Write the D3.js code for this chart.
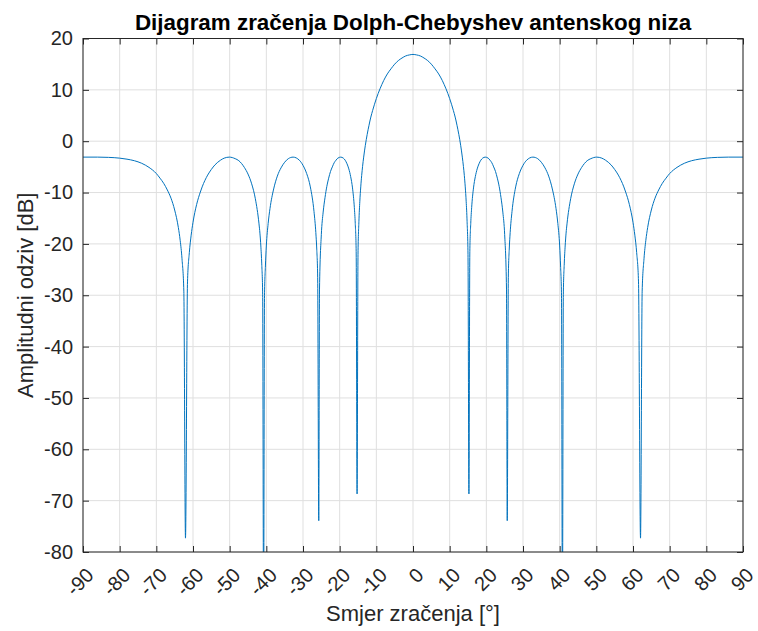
<!DOCTYPE html>
<html>
<head>
<meta charset="utf-8">
<script src="https://cdn.jsdelivr.net/npm/d3@7"></script>
<style>
  body { margin: 0; background: #fff; }
  svg text { font-family: "Liberation Sans", Arial, Helvetica, sans-serif; fill: #262626; }
</style>
</head>
<body>
<div id="chart"></div>
<script>
// angle (deg) and array factor (dB)
const angles = [
  -90, -86, -83, -80, -78, -76, -74, -72, -70, -69, -68, -67, -66, -65, -64, -63.5, -63, -62.5, -62.05, -61.5,
  -61, -60.5, -60, -59, -58, -57.5, -56, -55, -54, -52.5, -51.5, -50.1, -48.5, -47.5, -46, -45, -44, -43, -42,
  -41.75, -41.5, -41.25, -41, -40.75, -40.5, -40.25, -40, -39.5, -39, -38, -37, -36, -35, -34, -32.7, -31, -30,
  -29, -28, -27, -26.5, -26.25, -26, -25.7, -25.5, -25, -24.5, -24, -23.5, -23, -22.5, -22, -21.5, -21, -20.5,
  -19.7, -19, -18.5, -18, -17.5, -17, -16.5, -16, -15.75, -15.5, -15.25, -15, -14.75, -14.5, -14.25, -14, -13.75,
  -13.45, -13, -12.5, -12, -11.5, -11, -10, -9, -8, -7, -6, -5, -4, -3, -2, -1,
  0,
  1, 2, 3, 4, 5, 6, 7, 8, 9, 10, 11, 11.5, 12, 12.5, 13, 13.45,
  13.75, 14, 14.25, 14.5, 14.75, 15, 15.25, 15.5, 15.75, 16, 16.5, 17, 17.5, 18, 18.5, 19, 19.7,
  20.5, 21, 21.5, 22, 22.5, 23, 23.5, 24, 24.5, 25, 25.5, 25.7, 26, 26.25, 26.5, 27, 28, 29,
  30, 31, 32.7, 34, 35, 36, 37, 38, 39, 39.5, 40, 40.25, 40.5, 40.75, 41, 41.25, 41.5, 41.75,
  42, 43, 44, 45, 46, 47.5, 48.5, 50.1, 51.5, 52.5, 54, 55, 56, 57.5, 58, 59, 60, 60.5, 61,
  61.5, 62.05, 62.5, 63, 63.5, 64, 65, 66, 67, 68, 69, 70, 72, 74, 76, 78, 80, 83, 86, 90
];
const levels = [
  -3.1, -3.1, -3.15, -3.3, -3.5, -3.8, -4.3, -5.1, -6.3, -7.2, -8.2, -9.5, -11.1, -13.4, -16.8, -19.3, -22.9, -29.2, -77.3, -27.4,
  -21.7, -18.3, -15.8, -12.3, -9.9, -8.9, -6.6, -5.5, -4.6, -3.7, -3.3, -3.1, -3.4, -3.8, -5.1, -6.4, -8.3, -11.2, -16.1,
  -17.9, -20.4, -23.9, -29.9, -95, -30.1, -24.3, -20.4, -16.0, -13.1, -9.3, -6.8, -5.2, -4.1, -3.4, -3.1, -3.7, -4.7,
  -6.3, -8.9, -13.7, -17.8, -21.0, -26.5, -73.9, -28.8, -18.2, -13.8, -11.0, -8.8, -7.2, -5.9, -5.0, -4.2, -3.7, -3.3,
  -3.1, -3.3, -3.7, -4.4, -5.4, -6.9, -9.1, -12.9, -16.0, -21.5, -68.7, -22.1, -15.6, -11.7, -8.9, -6.7, -4.9,
  -3.1, -0.8, 1.3, 3.1, 4.7, 6.0, 8.3, 10.2, 11.8, 13.1, 14.1, 15.0, 15.7, 16.2, 16.6, 16.8,
  16.9,
  16.8, 16.6, 16.2, 15.7, 15.0, 14.1, 13.1, 11.8, 10.2, 8.3, 6.0, 4.7, 3.1, 1.3, -0.8, -3.1,
  -4.9, -6.7, -8.9, -11.7, -15.6, -22.1, -68.7, -21.5, -16.0, -12.9, -9.1, -6.9, -5.4, -4.4, -3.7, -3.3, -3.1,
  -3.3, -3.7, -4.2, -5.0, -5.9, -7.2, -8.8, -11.0, -13.8, -18.2, -28.8, -73.9, -26.5, -21.0, -17.8, -13.7, -8.9, -6.3,
  -4.7, -3.7, -3.1, -3.4, -4.1, -5.2, -6.8, -9.3, -13.1, -16.0, -20.4, -24.3, -30.1, -95, -29.9, -23.9, -20.4, -17.9,
  -16.1, -11.2, -8.3, -6.4, -5.1, -3.8, -3.4, -3.1, -3.3, -3.7, -4.6, -5.5, -6.6, -8.9, -9.9, -12.3, -15.8, -18.3, -21.7,
  -27.4, -77.3, -29.2, -22.9, -19.3, -16.8, -13.4, -11.1, -9.5, -8.2, -7.2, -6.3, -5.1, -4.3, -3.8, -3.5, -3.3, -3.15, -3.1, -3.1
];
const xTicks = [-90, -80, -70, -60, -50, -40, -30, -20, -10, 0, 10, 20, 30, 40, 50, 60, 70, 80, 90];
const yTicks = [20, 10, 0, -10, -20, -30, -40, -50, -60, -70, -80];

const data = angles.map((a, i) => ({ angle: a, db: levels[i] }));

const W = 758, H = 631;
const margin = { top: 38.5, right: 15, bottom: 79, left: 83 };
const width = W - margin.left - margin.right;
const height = H - margin.top - margin.bottom;

const x = d3.scaleLinear().domain([-90, 90]).range([0, width]);
const y = d3.scaleLinear().domain([-80, 20]).range([height, 0]);

const svg = d3.select('#chart').append('svg')
  .attr('width', W)
  .attr('height', H);

const g = svg.append('g')
  .attr('transform', `translate(${margin.left},${margin.top})`);

// grid
g.append('g').selectAll('line').data(xTicks).join('line')
  .attr('x1', d => x(d)).attr('x2', d => x(d))
  .attr('y1', 0).attr('y2', height)
  .attr('stroke', '#dfdfdf');
g.append('g').selectAll('line').data(yTicks).join('line')
  .attr('x1', 0).attr('x2', width)
  .attr('y1', d => y(d)).attr('y2', d => y(d))
  .attr('stroke', '#dfdfdf');

// curve
svg.append('clipPath').attr('id', 'plot-clip')
  .append('rect').attr('width', width).attr('height', height);

const line = d3.line()
  .x(d => x(d.angle))
  .y(d => y(d.db))
  .curve(d3.curveMonotoneX);

g.append('path')
  .datum(data)
  .attr('clip-path', 'url(#plot-clip)')
  .attr('fill', 'none')
  .attr('stroke', '#0072bd')
  .attr('stroke-width', 1)
  .attr('d', line);

// axes, ticks pointing inwards
const fmt = d => String(d);
const xAxis = g.append('g').attr('transform', `translate(0,${height})`)
  .call(d3.axisBottom(x).tickValues(xTicks).tickFormat(fmt).tickSizeInner(-6).tickSizeOuter(0));
xAxis.selectAll('text')
  .attr('x', 6.5).attr('y', 19.5).attr('dy', '0.35em')
  .attr('text-anchor', 'end')
  .attr('transform', 'rotate(-45, 6.5, 19.5)');

const yAxis = g.append('g')
  .call(d3.axisLeft(y).tickValues(yTicks).tickFormat(fmt).tickSizeInner(-6).tickSizeOuter(0).tickPadding(10));

g.append('g')
  .call(d3.axisTop(x).tickValues(xTicks).tickFormat('').tickSizeInner(-6).tickSizeOuter(0));
g.append('g').attr('transform', `translate(${width},0)`)
  .call(d3.axisRight(y).tickValues(yTicks).tickFormat('').tickSizeInner(-6).tickSizeOuter(0));

g.selectAll('.domain').remove();
g.selectAll('.tick line').attr('stroke', '#262626');
g.selectAll('.tick text')
  .style('font-size', '20px')
  .style('fill', '#262626');

g.append('rect')
  .attr('width', width).attr('height', height)
  .attr('fill', 'none')
  .attr('stroke', '#262626')
  .attr('stroke-width', 1);

// labels
svg.append('text')
  .attr('x', margin.left + width / 2).attr('y', 29.5)
  .attr('text-anchor', 'middle')
  .style('font-size', '22.4px')
  .style('font-weight', 'bold')
  .style('fill', '#000')
  .text('Dijagram zračenja Dolph-Chebyshev antenskog niza');

svg.append('text')
  .attr('x', margin.left + width / 2).attr('y', 621)
  .attr('text-anchor', 'middle')
  .style('font-size', '22px')
  .text('Smjer zračenja [°]');

svg.append('text')
  .attr('transform', `translate(33,${margin.top + height / 2}) rotate(-90)`)
  .attr('text-anchor', 'middle')
  .style('font-size', '22px')
  .text('Amplitudni odziv [dB]');
</script>
</body>
</html>
